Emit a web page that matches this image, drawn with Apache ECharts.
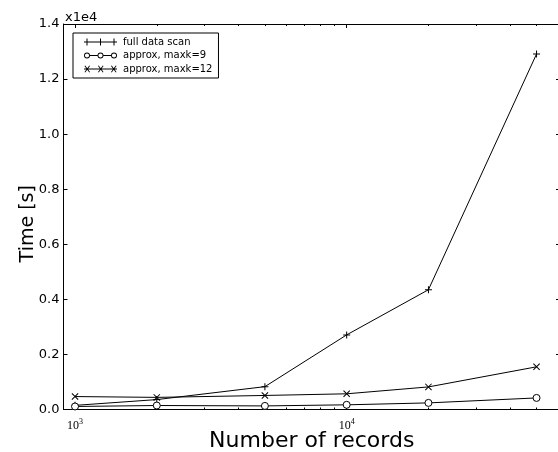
<!DOCTYPE html>
<html>
<head>
<meta charset="utf-8">
<script src="https://cdn.jsdelivr.net/npm/echarts@6/dist/echarts.min.js"></script>
<style>html,body{margin:0;padding:0;background:#fff;}#c{width:558px;height:452px;}</style>
</head>
<body>
<div id="c"></div>
<script>
// Data
const records = [1000, 2000, 5000, 10000, 20000, 50000];
const fullScan = [150, 360, 830, 2710, 4350, 12910];
const approx9 = [110, 145, 130, 170, 240, 420];
const approx12 = [470, 440, 510, 570, 820, 1550];
const seriesNames = ['full data scan', 'approx, maxk=9', 'approx, maxk=12'];
const xMajorTicks = [1000, 10000];
const xMinorTicks = [2000, 3000, 4000, 5000, 6000, 7000, 8000, 9000, 20000, 30000, 40000, 50000];
const yTicks = [0, 2000, 4000, 6000, 8000, 10000, 12000, 14000];

const pairs = arr => records.map((r, i) => [r, arr[i]]);

const plusPath = 'path://M0 3 H7 V4 H0 Z M3 0 H4 V7 H3 Z';
const crossPath = 'path://M0 0.7 L0.7 0 L7 6.3 L6.3 7 Z M6.3 0 L7 0.7 L0.7 7 L0 6.3 Z';

const legPlus = 'path://M0 3 H33 V4 H0 Z M2.5 0 H3.5 V7 H2.5 Z M16 0 H17 V7 H16 Z M29.5 0 H30.5 V7 H29.5 Z';
const legCircle = 'path://M0 3.5 A3 3 0 1 1 6 3.5 A3 3 0 1 1 0 3.5 Z M0.9 3.5 A2.1 2.1 0 1 0 5.1 3.5 A2.1 2.1 0 1 0 0.9 3.5 Z ' +
  'M6 3 H13.5 V4 H6 Z ' +
  'M13.5 3.5 A3 3 0 1 1 19.5 3.5 A3 3 0 1 1 13.5 3.5 Z M14.4 3.5 A2.1 2.1 0 1 0 18.6 3.5 A2.1 2.1 0 1 0 14.4 3.5 Z ' +
  'M19.5 3 H27 V4 H19.5 Z ' +
  'M27 3.5 A3 3 0 1 1 33 3.5 A3 3 0 1 1 27 3.5 Z M27.9 3.5 A2.1 2.1 0 1 0 32.1 3.5 A2.1 2.1 0 1 0 27.9 3.5 Z';
const legCross = 'path://M0 3 H33 V4 H0 Z ' +
  'M0.5 0.5 L1.2 0 L6 6.5 L5.3 7 Z M5.3 0 L6 0.5 L1.2 7 L0.5 6.5 Z ' +
  'M14 0.5 L14.7 0 L19.5 6.5 L18.8 7 Z M18.8 0 L19.5 0.5 L14.7 7 L14 6.5 Z ' +
  'M27 0.5 L27.7 0 L32.5 6.5 L31.8 7 Z M31.8 0 L32.5 0.5 L27.7 7 L27 6.5 Z';

const chart = echarts.init(document.getElementById('c'));
const baseX = {
  type: 'log', logBase: 10, min: 907, max: 61000, gridIndex: 0,
  splitLine: { show: false }, minorTick: { show: false }, minorSplitLine: { show: false }
};
const baseY = {
  type: 'value', min: 0, max: 14000, interval: 2000, splitLine: { show: false }
};
chart.setOption({
  backgroundColor: '#fff',
  animation: false,
  title: {
    text: 'x1e4', left: 60, top: 6,
    textStyle: { fontFamily: 'DejaVu Sans', fontSize: 13, fontWeight: 'normal', color: '#000' }
  },
  grid: { left: 63.5, right: -2, top: 24, bottom: 42.5, containLabel: false, outerBoundsMode: 'none' },
  legend: {
    orient: 'vertical', left: 73, top: 33,
    padding: [3, 6, 3, 11],
    itemWidth: 33, itemHeight: 7, itemGap: 1.5, 
    backgroundColor: '#fff', borderColor: '#000', borderWidth: 1, borderRadius: 0,
    textStyle: { fontFamily: 'DejaVu Sans', fontSize: 10, color: '#000', lineHeight: 12, padding: [0, 0, 0, 1] },
    data: [
      { name: seriesNames[0], icon: legPlus, itemStyle: { color: '#000', borderWidth: 0 } },
      { name: seriesNames[1], icon: legCircle, itemStyle: { color: '#000', borderWidth: 0 } },
      { name: seriesNames[2], icon: legCross, itemStyle: { color: '#000', borderWidth: 0 } }
    ]
  },
  xAxis: [
    Object.assign({}, baseX, {
      position: 'bottom',
      name: 'Number of records', nameLocation: 'middle', nameGap: 21, nameMoveOverlap: false,
      nameTextStyle: { fontFamily: 'DejaVu Sans', fontSize: 22, color: '#000' },
      axisLine: { show: true, lineStyle: { color: '#000', width: 1 } },
      axisTick: { show: true, inside: true, length: 4, customValues: xMajorTicks, lineStyle: { color: '#000' } },
      axisLabel: {
        show: true, margin: 8, customValues: xMajorTicks,
        formatter: v => '{b|10}{s|' + Math.round(Math.log10(v)) + '}',
        rich: {
          b: { fontFamily: 'Liberation Serif', fontSize: 12, color: '#000', lineHeight: 14, verticalAlign: 'bottom' },
          s: { fontFamily: 'Liberation Serif', fontSize: 8, color: '#000', lineHeight: 14, verticalAlign: 'top' }
        }
      }
    }),
    Object.assign({}, baseX, {
      position: 'bottom',
      axisLine: { show: false },
      axisTick: { show: true, inside: true, length: 2, customValues: xMinorTicks, lineStyle: { color: '#000' } },
      axisLabel: { show: false }
    }),
    Object.assign({}, baseX, {
      position: 'top',
      axisLine: { show: true, lineStyle: { color: '#000', width: 1 } },
      axisTick: { show: true, inside: true, length: 4, customValues: xMajorTicks, lineStyle: { color: '#000' } },
      axisLabel: { show: false }
    }),
    Object.assign({}, baseX, {
      position: 'top',
      axisLine: { show: false },
      axisTick: { show: true, inside: true, length: 2, customValues: xMinorTicks, lineStyle: { color: '#000' } },
      axisLabel: { show: false }
    })
  ],
  yAxis: [
    Object.assign({}, baseY, {
      position: 'left',
      name: 'Time [s]', nameLocation: 'middle', nameGap: 26, nameRotate: 90, nameMoveOverlap: false,
      nameTextStyle: { fontFamily: 'DejaVu Sans', fontSize: 19, color: '#000', padding: [0, 14, 0, 0] },
      axisLine: { show: true, lineStyle: { color: '#000', width: 1 } },
      axisTick: { show: true, inside: true, length: 4, lineStyle: { color: '#000' } },
      axisLabel: {
        show: true, margin: 4, fontFamily: 'DejaVu Sans', fontSize: 13, color: '#000',
        formatter: v => (v / 10000).toFixed(1)
      }
    }),
    Object.assign({}, baseY, {
      position: 'right',
      axisLine: { show: true, lineStyle: { color: '#000', width: 1 } },
      axisTick: { show: true, inside: true, length: 4, lineStyle: { color: '#000' } },
      axisLabel: { show: false }
    })
  ],
  series: [
    {
      name: seriesNames[0], type: 'line', data: pairs(fullScan),
      symbol: plusPath, symbolSize: 7,
      lineStyle: { color: '#000', width: 1 }, itemStyle: { color: '#000', borderWidth: 0 }, z: 3
    },
    {
      name: seriesNames[1], type: 'line', data: pairs(approx9),
      symbol: 'circle', symbolSize: 7,
      lineStyle: { color: '#000', width: 1 }, itemStyle: { color: '#fff', borderColor: '#000', borderWidth: 1 }, z: 4
    },
    {
      name: seriesNames[2], type: 'line', data: pairs(approx12),
      symbol: crossPath, symbolSize: 7,
      lineStyle: { color: '#000', width: 1 }, itemStyle: { color: '#000', borderWidth: 0 }, z: 3
    }
  ]
});
</script>
</body>
</html>
